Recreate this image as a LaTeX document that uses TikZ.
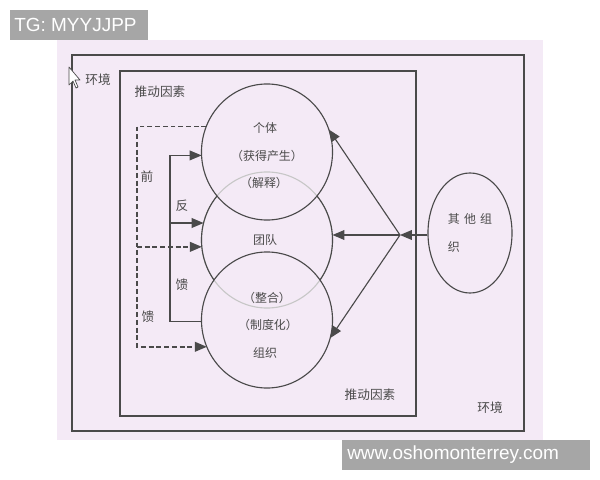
\documentclass[tikz,border=0pt]{standalone}
\usepackage{fontspec}
\setmainfont{Liberation Sans}
\newfontfamily\cjk{Noto Sans CJK SC}
\usetikzlibrary{arrows.meta,shapes.geometric}
\definecolor{paper}{HTML}{F4EAF6}
\definecolor{ink}{HTML}{4A4A4A}
\definecolor{wmark}{HTML}{A6A6A6}
\newcommand{\ringx}{1.6375cm}
\newcommand{\ringy}{1.7cm}
\tikzset{
  ring/.style={ellipse,draw=ink,line width=0.8pt,minimum width=3.275cm,minimum height=3.4cm,inner sep=0pt,outer sep=0pt},
  lbl/.style={text=ink,font=\cjk\fontsize{9}{11}\selectfont,inner sep=0pt},
  ctxt/.style={text=ink,font=\cjk\fontsize{8.5}{10}\selectfont,inner sep=0pt},
  arr/.style={draw=ink,line width=0.8pt,-{Triangle[length=8.5pt,width=7pt]}},
  ffline/.style={arr,line width=1pt,dash pattern=on 3.5pt off 2pt},
  wmbox/.style={text=white,font=\fontsize{13.5}{16}\selectfont,inner sep=0pt,anchor=west}
}

\begin{document}
\begin{tikzpicture}[x=0.025cm,y=-0.025cm]
    \useasboundingbox (0,0) rectangle (600,480);
    \fill[white] (0,0) rectangle (600,480);
    \fill[paper] (57,40) rectangle (543,440);
    \draw[ink,line width=0.8pt] (72,55) rectangle (524,431);
    \draw[ink,line width=0.8pt] (120,71) rectangle (416,416);
    \draw[ink,fill=white,line width=0.5pt,line join=round]
        (69,67) -- (69,85) -- (73,81) -- (76,88) -- (78,87) -- (75,80) -- (80,80) -- cycle;

    \node[lbl] (envtop) at (98,80) {环境};
    \node[lbl] (drvtop) at (160,92) {推动因素};
    \node[lbl] (drvbot) at (370,395) {推动因素};
    \node[lbl] (envbot) at (490,408) {环境};

    \node[ring,draw=black!22] (team) at (267,240) {};
    \node[ring] (indiv) at (267,152) {};
    \node[ring] (org) at (267,320) {};
    \begin{scope}[even odd rule]
        \clip (0,0) rectangle (600,480) (indiv.center) ellipse[x radius=\ringx,y radius=\ringy];
        \begin{scope}[even odd rule]
            \clip (0,0) rectangle (600,480) (org.center) ellipse[x radius=\ringx,y radius=\ringy];
            \draw[ink,line width=0.8pt] (team.center) ellipse[x radius=\ringx,y radius=\ringy];
        \end{scope}
    \end{scope}

    \node[ctxt] (t1) at (265,128) {个体};
    \node[ctxt] (t2) at (267,156) {（获得产生）};
    \node[ctxt] (t3) at (264,183) {（解释）};
    \node[ctxt] (t4) at (265,240) {团队};
    \node[ctxt] (t5) at (267,298) {（整合）};
    \node[ctxt] (t6) at (268,325) {（制度化）};
    \node[ctxt] (t7) at (265,353) {组织};

    \coordinate (ff) at (137,240);
    \coordinate (fb) at (170,240);
    \draw[ffline] (indiv.157) -- (indiv.157 -| ff) -- (org.204 -| ff) -- (org.204);
    \draw[ffline] (team.186 -| ff) -- (team.186);
    \draw[arr] (org.181) -- (org.181 -| fb) -- (indiv.183 -| fb) -- (indiv.183);
    \draw[arr] (team.165 -| fb) -- (team.165);
    \node[lbl] (qian) at (147,177) {前};
    \node[lbl] (kui1) at (148,317) {馈};
    \node[lbl] (fan) at (182,206) {反};
    \node[lbl] (kui2) at (182,285) {馈};

    \node[ellipse,draw=ink,line width=0.8pt,minimum width=2.1cm,minimum height=3cm,inner sep=0pt,
        text=ink,font=\cjk\fontsize{8.5}{20}\selectfont,align=left] (other) at (470,233)
        {其\hspace{3pt}他\hspace{3pt}组\\织};
    \coordinate (hub) at (400,235);
    \draw[arr] (hub -| other.west) -- (hub);
    \draw[arr] (hub) -- (indiv.20);
    \draw[arr] (hub) -- (hub -| team.east);
    \draw[arr] (hub) -- (org.-16);

    \fill[wmark] (10,10) rectangle (148,40);
    \node[wmbox] (tg) at (14,25) {TG: MYYJJPP};
    \fill[wmark] (342,440) rectangle (590,470);
    \node[wmbox] (site) at (347,455) {www.oshomonterrey.com};
\end{tikzpicture}
\end{document}
